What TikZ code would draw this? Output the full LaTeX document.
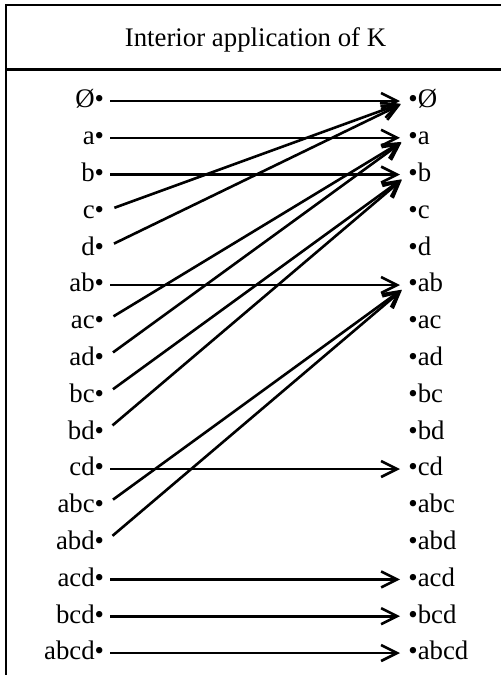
\documentclass[tikz,border=0pt]{standalone}
\usepackage{fontspec}
\setmainfont{Liberation Serif}
\usetikzlibrary{arrows.meta}
\tikzset{
  elem/.style={inner sep=0pt, text height=1.5ex, text depth=0pt},
  src/.style={elem, anchor=east},
  dst/.style={elem, anchor=west},
  mapto/.style={line width=1.3pt, -{Straight Barb[length=8pt, width=8pt, line width=1.3pt]},
    shorten <=2.75pt, shorten >=4pt},
  mapslant/.style={mapto, shorten <=5.25pt}
}

\begin{document}
\begin{tikzpicture}[x=0.5pt, y=-0.5pt, font=\fontsize{13.4}{15}\selectfont]
  \useasboundingbox (0,0) rectangle (501,675);
  % ============ frame and title ============
  \draw[line width=1.3pt] (506,5) -- (6,5) -- (6,680);
  \draw[line width=1.3pt] (6,69.5) -- (506,69.5);
  \node[anchor=base, inner sep=0pt] (title) at (255.5,46) {Interior application of K};
  % ============ subsets (left) ============
  \node[src] (L0)  at (104.5,101.0) {Ø•};
  \node[src] (L1)  at (104.5,137.8) {a•};
  \node[src] (L2)  at (104.5,174.6) {b•};
  \node[src] (L3)  at (104.5,211.4) {c•};
  \node[src] (L4)  at (104.5,248.2) {d•};
  \node[src] (L5)  at (104.5,285.0) {ab•};
  \node[src] (L6)  at (104.5,321.8) {ac•};
  \node[src] (L7)  at (104.5,358.6) {ad•};
  \node[src] (L8)  at (104.5,395.4) {bc•};
  \node[src] (L9)  at (104.5,432.2) {bd•};
  \node[src] (L10) at (104.5,469.0) {cd•};
  \node[src] (L11) at (104.5,505.8) {abc•};
  \node[src] (L12) at (104.5,542.6) {abd•};
  \node[src] (L13) at (104.5,579.4) {acd•};
  \node[src] (L14) at (104.5,616.2) {bcd•};
  \node[src] (L15) at (104.5,653.0) {abcd•};
  % ============ subsets (right) ============
  \node[dst] (R0)  at (408,101.0) {•Ø};
  \node[dst] (R1)  at (408,137.8) {•a};
  \node[dst] (R2)  at (408,174.6) {•b};
  \node[dst] (R3)  at (408,211.4) {•c};
  \node[dst] (R4)  at (408,248.2) {•d};
  \node[dst] (R5)  at (408,285.0) {•ab};
  \node[dst] (R6)  at (408,321.8) {•ac};
  \node[dst] (R7)  at (408,358.6) {•ad};
  \node[dst] (R8)  at (408,395.4) {•bc};
  \node[dst] (R9)  at (408,432.2) {•bd};
  \node[dst] (R10) at (408,469.0) {•cd};
  \node[dst] (R11) at (408,505.8) {•abc};
  \node[dst] (R12) at (408,542.6) {•abd};
  \node[dst] (R13) at (408,579.4) {•acd};
  \node[dst] (R14) at (408,616.2) {•bcd};
  \node[dst] (R15) at (408,653.0) {•abcd};
  % ============ interior map ============
  \draw[mapto]    (L0.east)  -- (R0.west);
  \draw[mapto]    (L1.east)  -- (R1.west);
  \draw[mapto]    (L2.east)  -- (R2.west);
  \draw[mapslant] (L3.east)  -- (R0.west);
  \draw[mapslant] (L4.east)  -- (R0.west);
  \draw[mapto]    (L5.east)  -- (R5.west);
  \draw[mapslant] (L6.east)  -- (R1.west);
  \draw[mapslant] (L7.east)  -- (R1.west);
  \draw[mapslant] (L8.east)  -- (R2.west);
  \draw[mapslant] (L9.east)  -- (R2.west);
  \draw[mapto]    (L10.east) -- (R10.west);
  \draw[mapslant] (L11.east) -- (R5.west);
  \draw[mapslant] (L12.east) -- (R5.west);
  \draw[mapto]    (L13.east) -- (R13.west);
  \draw[mapto]    (L14.east) -- (R14.west);
  \draw[mapto]    (L15.east) -- (R15.west);
\end{tikzpicture}
\end{document}
